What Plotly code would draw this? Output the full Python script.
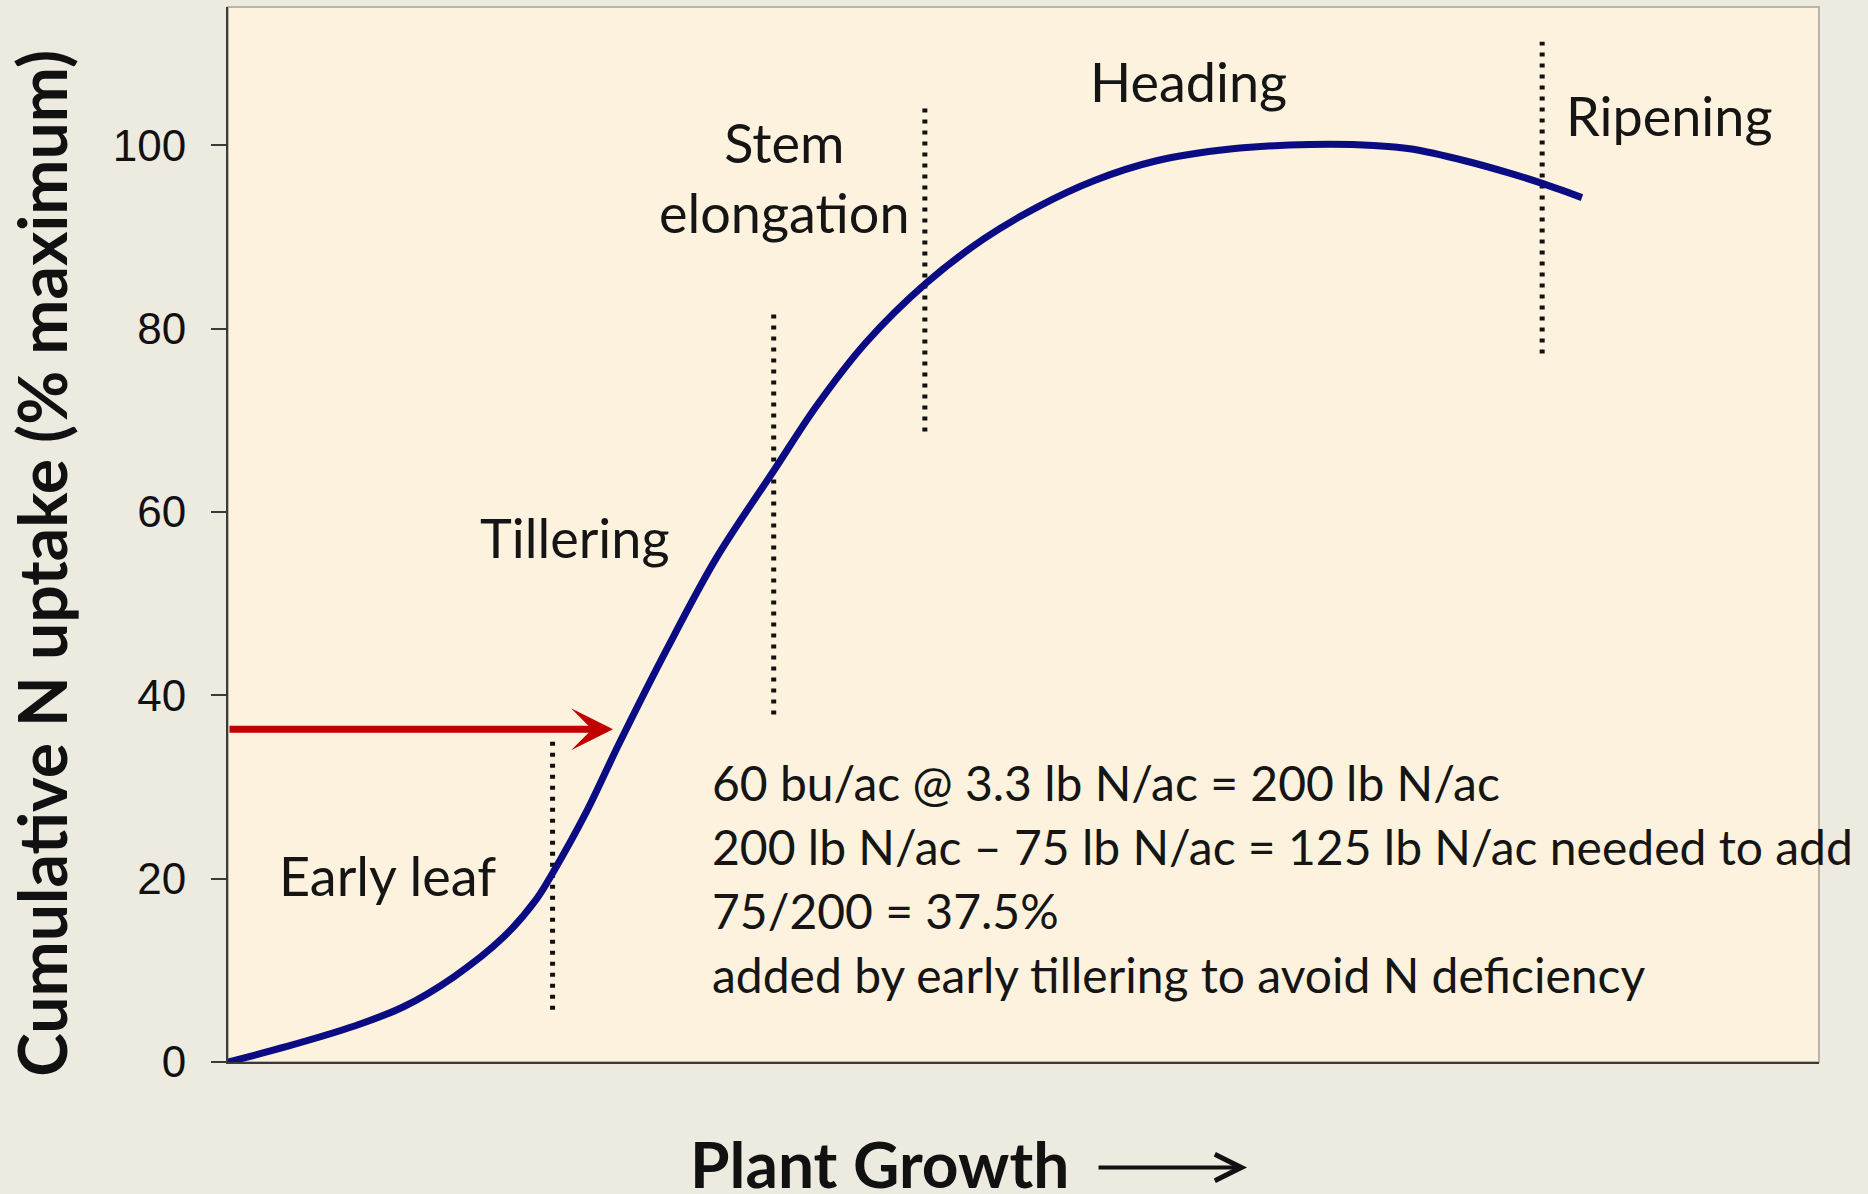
import plotly.graph_objects as go

# plant growth (0-100 across the plot width) vs cumulative N uptake (% of maximum)
growth = [0, 3.7, 7.9, 11.0, 14.2, 17.3, 19.4, 20.4, 22.5, 24.6, 27.6, 30.7, 34.3, 37.0,
          40.1, 43.9, 47.5, 50.9, 54.5, 58.3, 63.0, 68.0, 72.0, 74.4, 77.8, 80.5, 82.7, 85.1]
uptake = [0, 1.7, 3.9, 6.0, 9.3, 13.6, 17.8, 20.6, 27.2, 34.8, 45.1, 55.0, 64.5, 71.6,
          78.5, 85.0, 89.8, 93.3, 96.2, 98.3, 99.6, 100.1, 100.0, 99.6, 98.3, 97.0, 95.8, 94.3]

# dotted stage boundaries
boundary_x = [20.4, 34.3, 43.8, 82.6]
boundary_lo = [5.7, 37.9, 68.8, 77.3]
boundary_hi = [35.6, 82.1, 104.2, 111.3]

stage_names = ['Early leaf', 'Tillering', 'Stem<br>elongation', 'Heading', 'Ripening']
stage_x = [10.0, 21.8, 35.0, 60.4, 90.6]
stage_y = [20.3, 57.2, 96.5, 107.0, 103.3]

# N needed by early tillering
arrow_y = 36.3
arrow_tip_x = 24.2

calc_lines = [
    '60 bu/ac @ 3.3 lb N/ac = 200 lb N/ac',
    '200 lb N/ac \u2013 75 lb N/ac = 125 lb N/ac needed to add',
    '75/200 = 37.5%',
    'added by early tillering to avoid N deficiency',
]
calc_x = 30.3
calc_y = 20.0

y_ticks = [0, 20, 40, 60, 80, 100]

LABEL_FONT = 'Lato, Open Sans, sans-serif'

fig = go.Figure()

bx, by = [], []
for x, lo, hi in zip(boundary_x, boundary_lo, boundary_hi):
    bx += [x, x, None]
    by += [lo, hi, None]
fig.add_trace(go.Scatter(
    x=bx, y=by, mode='lines', hoverinfo='skip',
    line=dict(color='#111111', width=5, dash='4px,7px'),
))

fig.add_trace(go.Scatter(
    x=growth, y=uptake, mode='lines', line_shape='spline',
    line=dict(color='#0B0B84', width=7), name='N uptake',
))

fig.add_annotation(
    x=arrow_tip_x, y=arrow_y, ax=0, ay=arrow_y, xref='x', yref='y', axref='x', ayref='y',
    text='', showarrow=True, arrowhead=3, arrowsize=1.0, arrowwidth=7, arrowcolor='#C00000',
)

for name, x, y in zip(stage_names, stage_x, stage_y):
    fig.add_annotation(
        x=x, y=y, text=name, showarrow=False, xanchor='center', yanchor='middle',
        font=dict(family=LABEL_FONT, size=54, color='#151515'),
    )

# one annotation per line so the line pitch can match the slide
for i, line in enumerate(calc_lines):
    fig.add_annotation(
        x=calc_x, y=calc_y, yshift=-(i - 1.5) * 64, text=line, showarrow=False,
        xanchor='left', yanchor='middle', align='left',
        font=dict(family=LABEL_FONT, size=48, color='#151515'),
    )

# axis titles
fig.add_annotation(
    xref='paper', yref='paper', x=-0.117, y=0.473, xanchor='center', yanchor='middle',
    textangle=-90, text='<b>Cumulative N uptake (% maximum)</b>', showarrow=False,
    font=dict(family=LABEL_FONT, size=66, color='#111111'),
)
fig.add_annotation(
    xref='paper', yref='paper', x=0.4095, y=-0.058, yanchor='top', xanchor='center',
    text='<b>Plant Growth</b>', showarrow=False,
    font=dict(family=LABEL_FONT, size=64, color='#111111'),
)
fig.add_annotation(
    xref='paper', yref='paper', x=0.6405, y=-0.1, ax=-150, ay=0,
    text='', showarrow=True, arrowhead=5, arrowsize=1.3, arrowwidth=4, arrowcolor='#111111',
)

fig.add_shape(
    type='rect', xref='paper', yref='paper', x0=0, x1=1, y0=0, y1=1,
    line=dict(color='#A8A296', width=1.5), layer='below',
)

fig.update_xaxes(
    range=[0, 100], showticklabels=False, ticks='', showgrid=False, zeroline=False,
    showline=True, linecolor='#3a3a3a', linewidth=2,
)
fig.update_yaxes(
    range=[0, 115.1], tickvals=y_ticks, ticks='outside', ticklen=15, tickwidth=1.5,
    tickcolor='#3a3a3a', showgrid=False, zeroline=False, showline=True,
    linecolor='#3a3a3a', linewidth=2, ticklabelstandoff=16,
    tickfont=dict(family='Liberation Sans, Arial', size=44, color='#111111'),
)
fig.update_layout(
    width=1868, height=1194, showlegend=False,
    margin=dict(l=228, r=49, t=7, b=132),
    paper_bgcolor='#EDEBE0', plot_bgcolor='#FCF2DD',
)

fig.write_html("out.html", config={'displayModeBar': False},
               post_script="document.body.style.margin='0';")
